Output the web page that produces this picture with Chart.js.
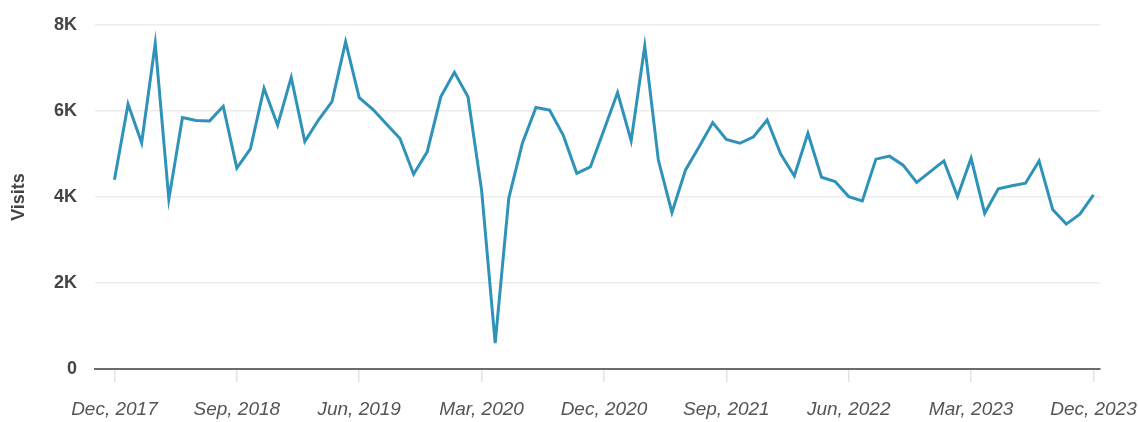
<!DOCTYPE html>
<html>
<head>
<meta charset="utf-8">
<script src="https://cdn.jsdelivr.net/npm/chart.js@4.4.1/dist/chart.umd.min.js"></script>
<style>
    html, body { margin: 0; padding: 0; background: #ffffff; }
    #wrap { width: 1138px; height: 422px; }
</style>
</head>
<body>
<div id="wrap"><canvas id="visitsChart"></canvas></div>
<script>
// Monthly visits, Dec 2017 .. Dec 2023
const visits = [
    4400, 6160, 5260, 7570, 3950, 5850, 5780, 5770, 6110, 4670, 5120, 6530,
    5670, 6780, 5290, 5790, 6220, 7610, 6310, 6040, 5700, 5360, 4530, 5050,
    6330, 6900, 6330, 4160, 600, 3970, 5250, 6080, 6020, 5440, 4550, 4700,
    5560, 6430, 5310, 7510, 4860, 3640, 4630, 5170, 5730, 5340, 5250, 5400,
    5790, 5000, 4490, 5480, 4460, 4360, 4010, 3910, 4880, 4950, 4740, 4340,
    4590, 4840, 4010, 4900, 3620, 4190, 4260, 4320, 4840, 3710, 3370, 3600,
    4050
];
const tickMonths = [0, 9, 18, 27, 36, 45, 54, 63, 72];
const tickLabels = ['Dec, 2017', 'Sep, 2018', 'Jun, 2019', 'Mar, 2020', 'Dec, 2020',
    'Sep, 2021', 'Jun, 2022', 'Mar, 2023', 'Dec, 2023'];
const yTicks = [0, 2000, 4000, 6000, 8000];

const monthNames = ['Jan', 'Feb', 'Mar', 'Apr', 'May', 'Jun', 'Jul', 'Aug', 'Sep', 'Oct', 'Nov', 'Dec'];
function monthName(i) {
    const m = (11 + i) % 12;
    const y = 2017 + Math.floor((11 + i) / 12);
    return monthNames[m] + ', ' + y;
}

const points = visits.map((v, i) => ({ x: i, y: v }));

const ctx = document.getElementById('visitsChart').getContext('2d');
const visitsChart = new Chart(ctx, {
    type: 'line',
    data: {
        datasets: [{
            label: 'Visits',
            data: points,
            borderColor: '#2f93b9',
            borderWidth: 3,
            pointRadius: 0,
            tension: 0,
            fill: false
        }]
    },
    options: {
        responsive: true,
        maintainAspectRatio: false,
        animation: false,
        layout: {
            padding: { left: 0, right: 38, top: 25, bottom: 0 }
        },
        plugins: {
            legend: { display: false },
            tooltip: {
                callbacks: {
                    title: items => monthName(items[0].parsed.x)
                }
            }
        },
        scales: {
            x: {
                type: 'linear',
                min: -1.43,
                max: 72.48,
                afterBuildTicks: scale => {
                    scale.ticks = tickMonths.map(v => ({ value: v }));
                },
                afterFit: scale => {
                    scale.height = 53;
                    scale.paddingLeft = 0;
                    scale.paddingRight = 0;
                },
                border: { display: true, color: '#6b6b6b', width: 2 },
                grid: {
                    drawOnChartArea: false,
                    drawTicks: true,
                    tickLength: 13,
                    tickColor: '#e4e4e4',
                    lineWidth: 1.5
                },
                ticks: {
                    autoSkip: false,
                    maxRotation: 0,
                    padding: 16,
                    color: '#555555',
                    font: { family: 'Liberation Sans', size: 19, style: 'italic' },
                    callback: (value, index) => tickLabels[index]
                }
            },
            y: {
                min: 0,
                max: 8000,
                afterBuildTicks: scale => {
                    scale.ticks = yTicks.map(v => ({ value: v }));
                },
                afterFit: scale => {
                    scale.width = 95;
                    scale.paddingTop = 0;
                    scale.paddingBottom = 0;
                },
                border: { display: false },
                grid: {
                    color: '#ececec',
                    lineWidth: 1.5,
                    drawTicks: false
                },
                title: {
                    display: true,
                    text: 'Visits',
                    color: '#444444',
                    padding: { top: 8, bottom: 0 },
                    font: { family: 'Liberation Sans', size: 18, weight: 'bold' }
                },
                ticks: {
                    padding: 18,
                    color: '#444444',
                    font: { family: 'Liberation Sans', size: 18, weight: 'bold' },
                    callback: value => value === 0 ? '0' : (value / 1000) + 'K'
                }
            }
        }
    }
});
</script>
</body>
</html>
